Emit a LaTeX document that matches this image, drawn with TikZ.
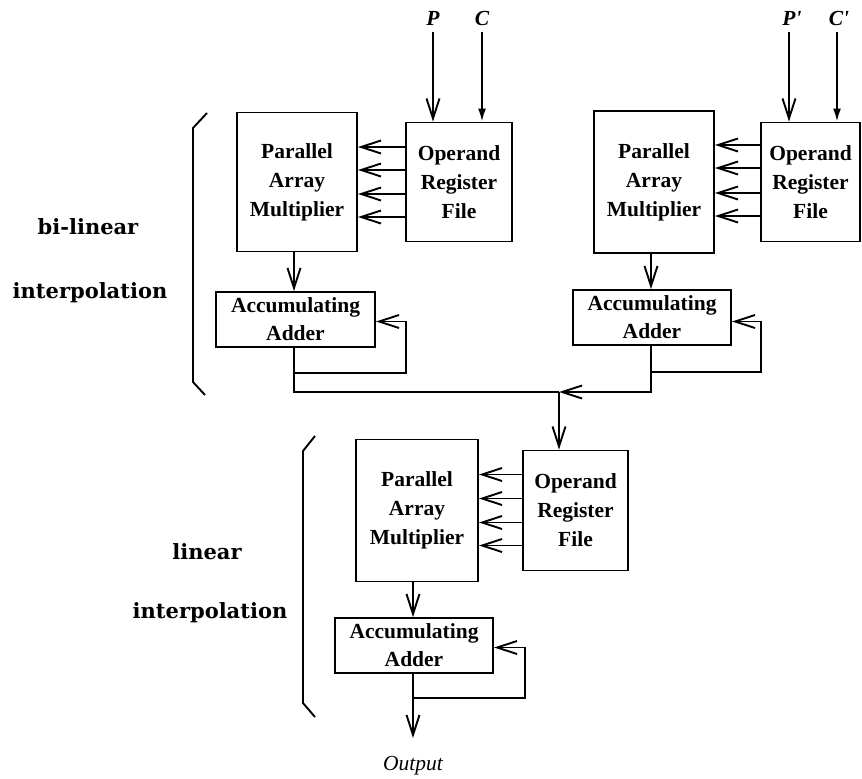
\documentclass[tikz,border=0pt]{standalone}
\usepackage{fontspec}
\setmainfont{Liberation Serif}
\newfontfamily\sidefam{DejaVu Serif}
\newfontfamily\plainserif{Liberation Serif}[Ligatures=ResetAll]
\usetikzlibrary{arrows.meta}
\tikzset{
  box/.style={draw, line width=1.9pt, inner sep=0pt, align=center,
    font=\bfseries\fontsize{21.5}{29}\selectfont},
  addbox/.style={draw, line width=1.9pt, inner sep=0pt, align=center,
    font=\bfseries\fontsize{21.5}{28}\selectfont},
  wire/.style={line width=1.9pt},
  arr/.style={line width=1.9pt, -{Straight Barb[length=20pt,width=13pt,line width=1.9pt]}},
  arrs/.style={line width=1.9pt, -{Latex[length=13pt,width=8pt]}},
  sidelab/.style={font=\sidefam\bfseries\fontsize{21}{25}\selectfont},
  inlab/.style={font=\plainserif\bfseries\itshape\fontsize{21.5}{25}\selectfont},
  outlab/.style={font=\itshape\fontsize{21.5}{24}\selectfont},
  brace/.style={line width=1.9pt}
}
\begin{document}
\begin{tikzpicture}[x=1pt,y=-1pt]
\useasboundingbox (0,0) rectangle (862,779);
% top-left block
\node[box, minimum width=120pt, minimum height=139pt] (pam1) at (297,182) {Parallel\\Array\\Multiplier};
\node[box, minimum width=106pt, minimum height=119pt] (orf1) at (459,182) {Operand\\Register\\File};
\node[addbox, minimum width=159pt, minimum height=55pt] (add1) at (295.5,319.5) {Accumulating\\Adder};
% top-right block
\node[box, minimum width=120pt, minimum height=142pt] (pam2) at (654,182) {Parallel\\Array\\Multiplier};
\node[box, minimum width=99pt, minimum height=119pt] (orf2) at (810.5,182) {Operand\\Register\\File};
\node[addbox, minimum width=158pt, minimum height=55pt] (add2) at (652,317.5) {Accumulating\\Adder};
% bottom block
\node[box, minimum width=122pt, minimum height=142pt] (pam3) at (417,510.5) {Parallel\\Array\\Multiplier};
\node[box, minimum width=105pt, minimum height=120pt] (orf3) at (575.5,510.5) {Operand\\Register\\File};
\node[addbox, minimum width=158pt, minimum height=55pt] (add3) at (414,645.5) {Accumulating\\Adder};
% inputs
\node[inlab] (P) at (433,18) {P};
\node[inlab] (C) at (482,18) {C};
\node[inlab] (P2) at (792,18) {P'};
\node[inlab] (C2) at (839,18) {C'};
\coordinate (ps) at (433,32);
\coordinate (cs) at (482,32);
\coordinate (p2s) at (789,32);
\coordinate (c2s) at (837,32);
\draw[arr] (ps) -- (ps |- orf1.north);
\draw[arrs] (cs) -- (cs |- orf1.north);
\draw[arr] (p2s) -- (p2s |- orf2.north);
\draw[arrs] (c2s) -- (c2s |- orf2.north);
% register file -> multiplier
\foreach \d in {35,12,-12,-35} {
  \draw[arr] ([yshift=\d pt]orf1.west) -- ([yshift=\d pt]pam1.east);
}
\foreach \d in {37,14,-11,-34} {
  \draw[arr] ([yshift=\d pt]orf2.west) -- ([yshift=\d pt]pam2.east);
}
\foreach \d in {36,12,-12,-35} {
  \draw[arr] ([yshift=\d pt]orf3.west) -- ([yshift=\d pt]pam3.east);
}
% multiplier -> adder
\coordinate (m1) at (294,0);
\coordinate (m2) at (651,0);
\coordinate (m3) at (413,0);
\draw[arr] (m1 |- pam1.south) -- (m1 |- add1.north);
\draw[arr] (m2 |- pam2.south) -- (m2 |- add2.north);
\draw[arr] (m3 |- pam3.south) -- (m3 |- add3.north);
% feedback loops
\coordinate (fb1) at (406,373);
\coordinate (fb2) at (761,372);
\coordinate (fb3) at (525,698);
\draw[arr] (m1 |- add1.south) |- (fb1) |- ([yshift=-2pt]add1.east);
\draw[arr] (m2 |- add2.south) |- (fb2) |- ([yshift=-4pt]add2.east);
\draw[arr] (m3 |- add3.south) |- (fb3) |- ([yshift=-2pt]add3.east);
% merge
\coordinate (j) at (559,392);
\draw[wire] (m1 |- add1.south) |- (j);
\draw[arr] (m2 |- add2.south) |- (j);
\draw[arr] (j) -- (j |- orf3.north);
% output
\node[outlab] (out) at (413,766) {Output};
\coordinate (oe) at (413,738);
\draw[arr] (m3 |- add3.south) -- (oe);
% brackets
\draw[brace] (207,113) -- (193,128) -- (193,382) -- (205,395);
\draw[brace] (315,436) -- (303,451) -- (303,703) -- (315,717);
% side labels
\node[sidelab] (bl1) at (88,227) {bi-linear};
\node[sidelab] (bl2) at (90,293) {interpolation};
\node[sidelab] (ll1) at (207,552) {linear};
\node[sidelab] (ll2) at (210,613) {interpolation};
\end{tikzpicture}
\end{document}
